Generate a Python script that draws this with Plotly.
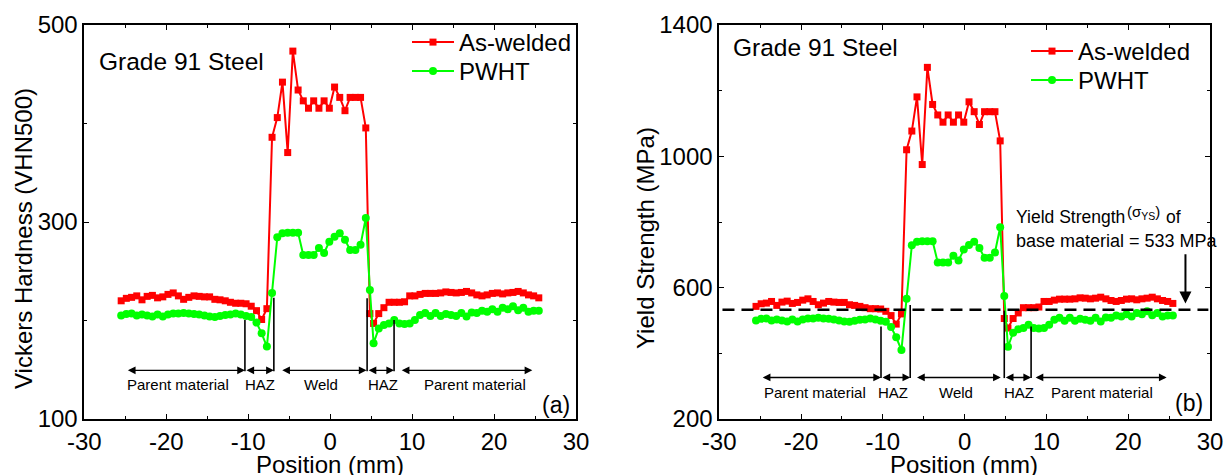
import plotly.graph_objects as go

# ---------------- data ----------------
position_mm = [-25.5, -24.87, -24.23, -23.6, -22.96, -22.33, -21.69, -21.06, -20.42, -19.79,
               -19.15, -18.52, -17.88, -17.25, -16.61, -15.98, -15.34, -14.71, -14.07, -13.44,
               -12.8, -12.17, -11.53, -10.9, -10.26, -9.63, -8.99, -8.36, -7.72, -7.09,
               -6.45, -5.82, -5.18, -4.55, -3.91, -3.28, -2.64, -2.01, -1.37, -0.74,
               -0.1, 0.54, 1.17, 1.81, 2.44, 3.08, 3.71, 4.35, 4.85,
               5.3, 5.93, 6.56, 7.19, 7.82, 8.45, 9.08, 9.71, 10.34, 10.97,
               11.6, 12.23, 12.86, 13.49, 14.12, 14.75, 15.38, 16.01, 16.64, 17.27,
               17.9, 18.53, 19.16, 19.79, 20.42, 21.05, 21.68, 22.31, 22.94, 23.57,
               24.2, 24.83, 25.46]

hardness_aswelded = [220, 222.5, 223.5, 225, 221, 224.5, 225.5, 223, 224, 226.5,
                     228, 225, 221.5, 223.5, 225, 224.5, 224, 224, 221.5, 221,
                     220, 218.5, 217.5, 217.5, 217, 214.5, 210, 201, 212, 386,
                     406, 442, 370.5, 473.5, 434, 423, 415.5, 423, 415.5, 423,
                     415.5, 437, 426.5, 413, 426.5, 426.5, 426.5, 395.5, 207,
                     197, 207, 213, 218.5, 218.5, 218.5, 219, 225, 225, 226.5,
                     227.5, 227.5, 227.5, 228, 229, 228.5, 228, 228.5, 229.5, 228,
                     226, 225, 226, 227.5, 228, 227, 228, 228.5, 229.5, 228,
                     226, 225, 223]

hardness_pwht = [205, 206.5, 207, 205, 206, 205, 204, 206, 204, 206,
                 207, 207, 207.5, 207, 206.5, 206, 205, 204, 203.5, 204.5,
                 205.5, 206, 207, 206, 204.5, 203.5, 198, 187, 173.5, 228,
                 284.5, 288.5, 289, 289, 289, 266.5, 266.5, 266.5, 273.5, 268.5,
                 280, 285, 288.5, 282, 271.5, 271.5, 277, 304, 231,
                 177, 192, 195.5, 197, 200.5, 197, 196.5, 197, 200.5, 205.5,
                 207.5, 204.5, 207.5, 204.5, 206.5, 205.5, 204.5, 207.5, 204, 208,
                 207.5, 210, 209, 211.5, 209, 213, 211.5, 214.5, 210.5, 213,
                 209, 210, 210]

ys_aswelded = [543, 551, 553, 558, 546, 556, 559, 552, 555, 562,
               566, 558, 548, 553, 558, 556, 555, 555, 548, 546,
               543, 539, 536, 536, 535, 528, 515, 489, 520, 1020,
               1077, 1181, 975, 1271, 1158, 1126, 1104, 1126, 1104, 1126,
               1104, 1166, 1136, 1097, 1136, 1136, 1136, 1047, 506,
               477, 506, 523, 539, 539, 539, 541, 558, 558, 562,
               565, 565, 565, 566, 569, 568, 566, 568, 571, 566,
               561, 558, 561, 565, 566, 563, 566, 568, 571, 566,
               561, 558, 552]

ys_pwht = [500, 505, 506, 500, 503, 500, 497, 503, 497, 503,
           506, 506, 508, 506, 505, 503, 500, 497, 496, 499,
           502, 503, 506, 503, 499, 496, 480, 449, 410, 566,
           729, 740, 741, 741, 741, 677, 677, 677, 697, 683,
           716, 730, 740, 721, 691, 691, 707, 784, 575,
           420, 463, 473, 477, 487, 477, 476, 477, 487, 502,
           508, 499, 508, 499, 505, 502, 499, 508, 497, 509,
           508, 515, 512, 519, 512, 523, 519, 528, 516, 523,
           512, 515, 515]

series_names = ["As-welded", "PWHT"]
x_tickvals = [-30, -20, -10, 0, 10, 20, 30]
x_ticktext = ["-30", "-20", "-10", "0", "10", "20", "30"]
base_yield_strength = 533

# zone boundaries (mm) and zone labels
zone_lines_a = [-10.4, -6.87, 4.51, 7.8]
zone_tops_a = [200.5, 223, 222.5, 200.5]
zone_lines_b = [-10.22, -6.65, 4.85, 8.13]
zone_tops_b = [482, 547, 530, 482]
zone_names = ["Parent material", "HAZ", "Weld", "HAZ", "Parent material"]
zone_label_x_a = [-18.55, -8.6, -1.1, 6.4, 17.65]
zone_label_x_b = [-18.3, -8.7, -1.0, 6.65, 16.75]

RED = "#FF0000"
GREEN = "#00FF00"
FONT = "Liberation Sans, Arial, sans-serif"
W, H = 1227, 475

fig = go.Figure()

panels = [("x", "y", hardness_aswelded, hardness_pwht, "legend", "legend2"),
          ("x2", "y2", ys_aswelded, ys_pwht, "legend3", "legend4")]
for xa, ya, yr, yg, leg_r, leg_g in panels:
    fig.add_trace(go.Scatter(x=position_mm, y=yr, mode="lines+markers", name=series_names[0],
                             xaxis=xa, yaxis=ya, legend=leg_r, cliponaxis=False, showlegend=True,
                             line=dict(color=RED, width=2),
                             marker=dict(symbol="square", size=7, color=RED)))
    fig.add_trace(go.Scatter(x=position_mm, y=yg, mode="lines+markers", name=series_names[1],
                             xaxis=xa, yaxis=ya, legend=leg_g, cliponaxis=False, showlegend=True,
                             line=dict(color=GREEN, width=2),
                             marker=dict(symbol="circle", size=8, color=GREEN)))

shapes = []
annotations = []


def txt(xref, yref, x, y, text, size, **kw):
    d = dict(xref=xref, yref=yref, x=x, y=y, text=text, showarrow=False,
             xanchor="center", yanchor="middle",
             font=dict(size=size, family=FONT, color="black"))
    d.update(kw)
    annotations.append(d)


def zone_marks(xref, yref, lines, tops, bottom, arrow_y, label_y, label_x, arrow_spans):
    for xv, top in zip(lines, tops):
        shapes.append(dict(type="line", xref=xref, yref=yref, x0=xv, x1=xv, y0=bottom, y1=top,
                           line=dict(color="black", width=1.6)))
    for x0, x1 in arrow_spans:
        annotations.append(dict(xref=xref, yref=yref, axref=xref, ayref=yref,
                                x=x1, y=arrow_y, ax=x0, ay=arrow_y, text="", showarrow=True,
                                arrowhead=2, startarrowhead=2, arrowside="end+start",
                                arrowsize=1.1, startarrowsize=1.1, arrowwidth=1.4,
                                arrowcolor="black"))
    for t, xv in zip(zone_names, label_x):
        txt(xref, yref, xv, label_y, t, 15)


zone_marks("x", "y", zone_lines_a, zone_tops_a, 148.5, 149.4, 134.8, zone_label_x_a,
           [(-24.87, -10.4), (-10.4, -6.87), (-6.03, 4.44), (4.51, 7.8), (8.55, 24.67)])
zone_marks("x2", "y2", zone_lines_b, zone_tops_b, 324.6, 326.6, 282, zone_label_x_b,
           [(-24.86, -10.22), (-10.22, -6.65), (-6.0, 4.42), (4.85, 8.13), (8.5, 24.7)])

# base-material yield strength line and its note
shapes.append(dict(type="line", xref="x2", yref="y2", x0=-29.6, x1=29.8,
                   y0=base_yield_strength, y1=base_yield_strength,
                   line=dict(color="black", width=2.5, dash="12px,7px")))
annotations.append(dict(xref="x2", yref="y2", axref="x2", ayref="y2", x=27.0, y=552, ax=27.0, ay=706,
                        text="", showarrow=True, arrowhead=2, arrowsize=1.2, arrowwidth=2,
                        arrowcolor="black"))
txt("x2", "y2", 6.0, 815, "Yield Strength", 17.5, xanchor="left")
txt("x2", "y2", 19.6, 828, "(σ<sub>YS</sub>)", 15, xanchor="left")
txt("x2", "y2", 24.4, 815, "of", 17.5, xanchor="left")
txt("x2", "y2", 6.0, 742, "base material = 533 MPa", 18, xanchor="left")

# panel texts
txt("x", "y", -28.5, 463, "Grade 91 Steel", 24.5, xanchor="left")
txt("x2", "y2", -28.6, 1331, "Grade 91 Steel", 24.5, xanchor="left")
txt("x", "y", 27.5, 114, "(a)", 23)
txt("x2", "y2", 27.4, 249, "(b)", 23)

# axis titles (positioned in figure pixels)
txt("paper", "paper", 330 / W, (H - 464) / H, "Position (mm)", 24)
txt("paper", "paper", 964 / W, (H - 464) / H, "Position (mm)", 24)
txt("paper", "paper", 24 / W, (H - 239) / H, "Vickers Hardness (VHN500)", 24, textangle=-90)
txt("paper", "paper", 645 / W, (H - 238) / H, "Yield Strength (MPa)", 24, textangle=-90)

axis_common = dict(showline=True, linecolor="black", linewidth=1.6, mirror="allticks",
                   ticks="inside", ticklen=5, tickwidth=1.4, tickcolor="black",
                   showgrid=False, zeroline=False, automargin=False,
                   tickfont=dict(size=24, family=FONT, color="black"),
                   minor=dict(ticks="inside", ticklen=3, tickwidth=1.2, tickcolor="black"))


def legend_box(x_px, top_px):
    return dict(x=x_px / W, y=(H - top_px) / H, xanchor="left", yanchor="top",
                bgcolor="rgba(0,0,0,0)", font=dict(size=24, family=FONT, color="black"),
                itemwidth=42, visible=True)


y_dom = [56 / H, 450 / H]
fig.update_layout(
    width=W, height=H,
    showlegend=True,
    margin=dict(l=0, r=0, t=0, b=0, pad=0, autoexpand=False),
    paper_bgcolor="white", plot_bgcolor="white",
    font=dict(family=FONT, color="black"),
    xaxis=dict(domain=[84.3 / W, 576 / W], range=[-30, 30], tickvals=x_tickvals,
               ticktext=x_ticktext, minor_tickvals=[-25, -15, -5, 5, 15, 25],
               ticklabelstandoff=0, anchor="y", **axis_common),
    yaxis=dict(domain=y_dom, range=[100, 500], tickvals=[100, 300, 500],
               minor_tickvals=[200, 400], ticklabelstandoff=0, anchor="x", **axis_common),
    xaxis2=dict(domain=[719.2 / W, 1210 / W], range=[-30, 30], tickvals=x_tickvals,
                ticktext=x_ticktext, minor_tickvals=[-25, -15, -5, 5, 15, 25],
                ticklabelstandoff=0, anchor="y2", **axis_common),
    yaxis2=dict(domain=y_dom, range=[200, 1400], tickvals=[200, 600, 1000, 1400],
                minor_tickvals=[400, 800, 1200], ticklabelstandoff=0, anchor="x2", **axis_common),
    legend=legend_box(407, 20),
    legend2=legend_box(407, 49),
    legend3=legend_box(1026, 29),
    legend4=legend_box(1026, 58),
    shapes=shapes,
    annotations=annotations,
)

fig.write_html("out.html", config={"displayModeBar": False},
               post_script="document.body.style.margin='0';document.body.style.overflow='hidden';")
